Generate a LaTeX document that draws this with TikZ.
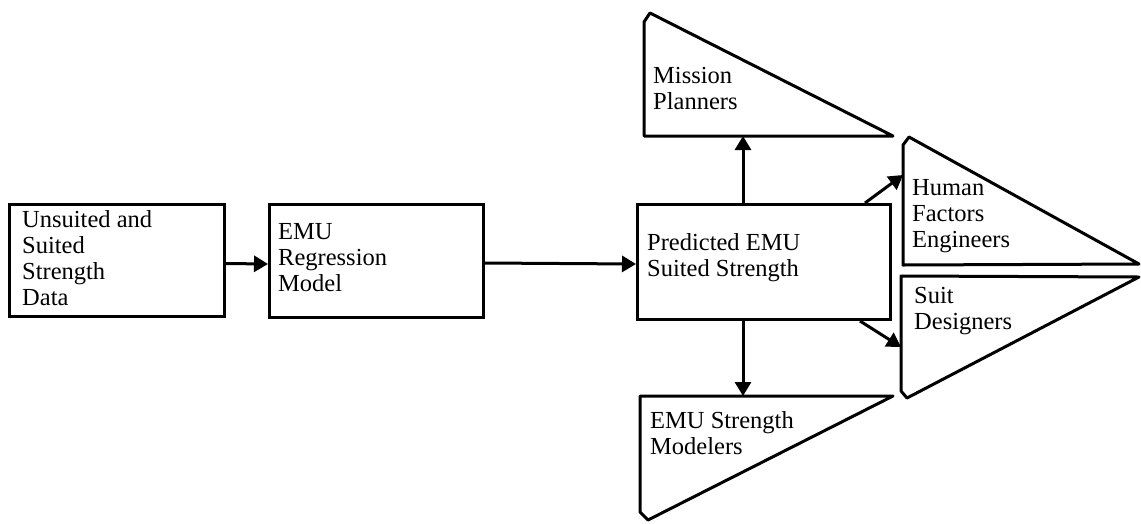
\documentclass[tikz,border=0pt]{standalone}
\usepackage{fontspec}
\setmainfont{Liberation Serif}
\usetikzlibrary{arrows.meta}
\begin{document}
\begin{tikzpicture}[x=1pt,y=-1pt,
  box/.style={draw, line width=3pt, inner sep=0pt, anchor=north west},
  lbl/.style={anchor=north west, inner sep=0pt, align=left, font=\fontsize{24.5}{26}\selectfont},
  flow/.style={line width=3pt, -{Triangle[length=14pt,width=16pt]}},
  pen/.style={draw, line width=3pt, line join=round}]
\useasboundingbox (0,0) rectangle (1141,523);
% boxes
\node[box, minimum width=215pt, minimum height=112pt] (b1) at (8,203) {};
\node[box, minimum width=214pt, minimum height=113pt] (b2) at (268,203) {};
\node[box, minimum width=253pt, minimum height=115pt] (b3) at (636,203) {};
% pennants
\draw[pen] (650,13) -- (893,136) -- (644,136) -- (644,22) -- cycle;
\draw[pen] (640,396) -- (893,396) -- (648,520) -- (640,512) -- cycle;
\draw[pen] (909,137) -- (1139,264) -- (903,265) -- (903,145) -- cycle;
\draw[pen] (901,276) -- (1139,277) -- (907,398) -- (901,391) -- cycle;
\coordinate (mpB) at (743,136);
\coordinate (smT) at (743,396);
\coordinate (hfL) at (903,175);
\coordinate (sdL) at (901,347);
% labels
\node[lbl] (t1) at (22,208.8) {\strut Unsuited and\\Suited\\Strength\\Data};
\node[lbl] (t2) at (278,220.8) {\strut EMU\\Regression\\Model};
\node[lbl] (t3) at (647,231.8) {\strut Predicted EMU\\Suited Strength};
\node[lbl] (t4) at (653,64.8) {\strut Mission\\Planners};
\node[lbl] (t5) at (650,409.8) {\strut EMU Strength\\Modelers};
\node[lbl] (t6) at (912,176.8) {\strut Human\\Factors\\Engineers};
\node[lbl] (t7) at (914,284.8) {\strut Suit\\Designers};
% connectors
\draw[flow] ([yshift=-3pt]b1.east) -- ([yshift=-3pt]b2.west);
\draw[flow] ([yshift=-2pt]b2.east) -- ([yshift=-2pt]b3.west);
\draw[flow] (b3.north -| mpB) -- (mpB);
\draw[flow] (b3.south -| smT) -- (smT);
\draw[flow] ([xshift=-27pt]b3.north east) -- (hfL);
\draw[flow] ([xshift=-32pt]b3.south east) -- (sdL);
\end{tikzpicture}
\end{document}
